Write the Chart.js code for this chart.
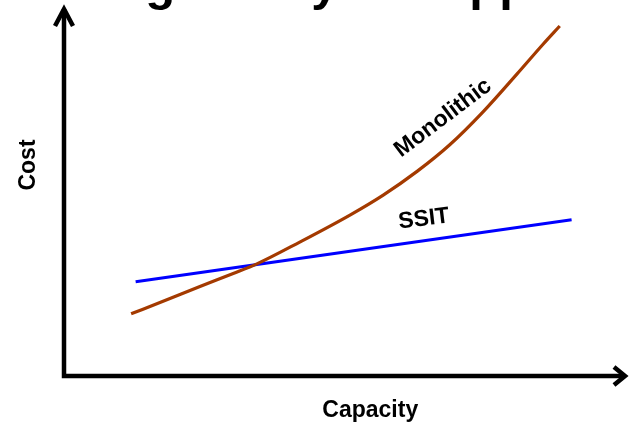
<!DOCTYPE html>
<html>
<head>
<meta charset="utf-8">
<script src="https://cdn.jsdelivr.net/npm/chart.js@4.4.1/dist/chart.umd.min.js"></script>
<style>
  html, body { margin: 0; padding: 0; background: #ffffff; }
  canvas { display: block; }
</style>
</head>
<body>
<canvas id="chart" width="629" height="428"></canvas>
<script>
// Cost vs. capacity, arbitrary units (0..10 on both axes)
const monoCapacity = [1.19, 1.79, 2.41, 3.00, 3.42, 4.18, 5.07, 5.66, 6.26, 6.84, 7.43, 8.03, 8.49, 8.79];
const monoCost     = [1.68, 2.04, 2.42, 2.77, 3.03, 3.62, 4.35, 4.89, 5.53, 6.25, 7.14, 8.16, 8.96, 9.46];
const ssitCapacity = [1.27, 9.00];
const ssitCost     = [2.55, 4.22];

const seriesNames = ['Monolithic', 'SSIT'];
const axisTitles = { x: 'Capacity', y: 'Cost' };
const pageTitle = 'Scaling Ability vs. Approach';

const FONT = '"Liberation Sans", Arial, sans-serif';

const toPoints = (xs, ys) => xs.map((x, i) => ({ x, y: ys[i] }));

// Axis arrows, axis titles, in-plot series labels and the heading
const decorations = {
  id: 'decorations',
  afterDatasetsDraw(chart) {
    const { ctx, chartArea: a, scales } = chart;
    ctx.save();

    // axes with open arrowheads
    ctx.strokeStyle = '#000';
    ctx.lineWidth = 4.5;
    ctx.lineJoin = 'miter';
    ctx.lineCap = 'butt';
    ctx.beginPath();
    ctx.moveTo(a.left, a.top + 3);
    ctx.lineTo(a.left, a.bottom);
    ctx.lineTo(a.right - 3, a.bottom);
    ctx.stroke();

    ctx.beginPath();
    ctx.moveTo(a.left - 9, a.top + 20);
    ctx.lineTo(a.left, a.top + 3);
    ctx.lineTo(a.left + 9, a.top + 20);
    ctx.stroke();

    ctx.beginPath();
    ctx.moveTo(a.right - 14, a.bottom - 9);
    ctx.lineTo(a.right - 3, a.bottom);
    ctx.lineTo(a.right - 14, a.bottom + 9);
    ctx.stroke();

    // axis titles
    ctx.fillStyle = '#000';
    ctx.font = 'bold 23px ' + FONT;
    ctx.textAlign = 'center';
    ctx.textBaseline = 'middle';
    ctx.fillText(axisTitles.x, scales.x.getPixelForValue(5.43), a.bottom + 35);

    ctx.save();
    ctx.translate(29, 165);
    ctx.rotate(-Math.PI / 2);
    ctx.fillText(axisTitles.y, 0, 0);
    ctx.restore();

    // series labels placed in data space
    const labels = [
      { text: seriesNames[0], x: 6.72, y: 6.97, angle: -37 },
      { text: seriesNames[1], x: 6.38, y: 4.24, angle: -7 }
    ];
    labels.forEach(l => {
      ctx.save();
      ctx.translate(scales.x.getPixelForValue(l.x), scales.y.getPixelForValue(l.y));
      ctx.rotate(l.angle * Math.PI / 180);
      ctx.fillText(l.text, 0, 0);
      ctx.restore();
    });

    // heading, running off the top edge
    ctx.font = 'bold 49px ' + FONT;
    ctx.textAlign = 'left';
    ctx.textBaseline = 'alphabetic';
    ctx.fillText(pageTitle, 1, 0);

    ctx.restore();
  }
};

new Chart(document.getElementById('chart'), {
  type: 'line',
  data: {
    datasets: [
      {
        label: seriesNames[0],
        data: toPoints(monoCapacity, monoCost),
        borderColor: '#a43a00',
        borderWidth: 3.2,
        pointRadius: 0,
        cubicInterpolationMode: 'monotone',
        fill: false
      },
      {
        label: seriesNames[1],
        data: toPoints(ssitCapacity, ssitCost),
        borderColor: '#0000ff',
        borderWidth: 3,
        pointRadius: 0,
        tension: 0,
        fill: false
      }
    ]
  },
  options: {
    responsive: false,
    devicePixelRatio: 1,
    animation: false,
    clip: false,
    layout: { padding: { left: 64, right: 1, top: 6, bottom: 52 } },
    plugins: {
      legend: { display: false },
      tooltip: { enabled: false },
      title: { display: false }
    },
    scales: {
      x: { type: 'linear', min: 0, max: 10, display: false },
      y: { type: 'linear', min: 0, max: 10, display: false }
    }
  },
  plugins: [decorations]
});
</script>
</body>
</html>
